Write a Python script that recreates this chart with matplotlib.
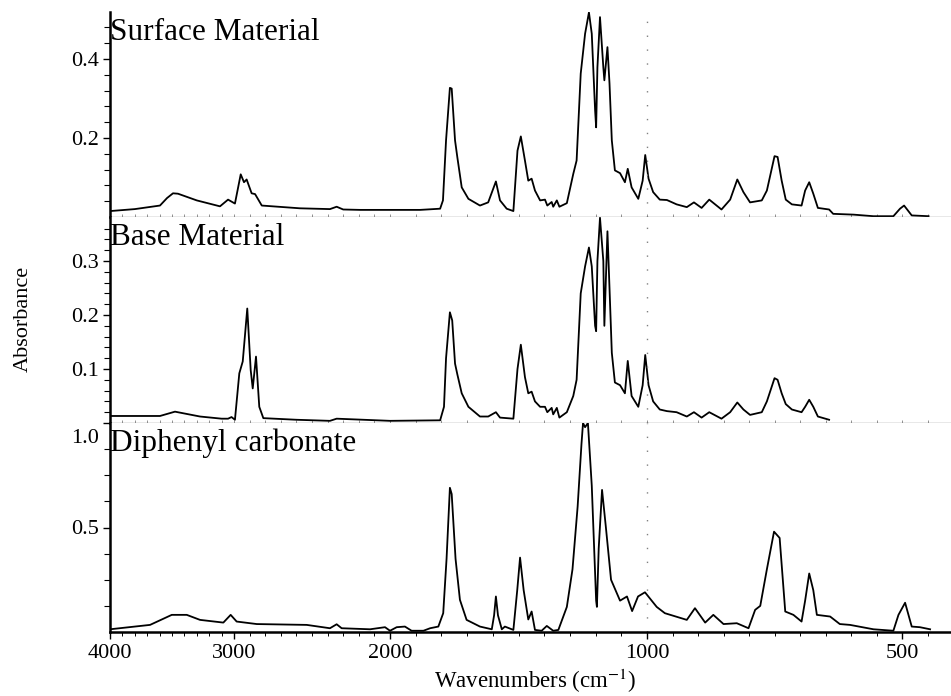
import numpy as np
import matplotlib
matplotlib.use("Agg")
from matplotlib import pyplot as plt
from matplotlib.ticker import FixedLocator, NullFormatter
from matplotlib.transforms import ScaledTranslation

plt.rcParams['font.family'] = ['Liberation Serif', 'DejaVu Serif']
plt.rcParams['mathtext.fontset'] = 'stix'

# expanded wavenumber axis: knot wavenumbers and where they sit along the axis
AXIS_WN = np.array([400.0, 500.0, 1000.0, 2000.0, 3000.0, 4000.0])
AXIS_POS = np.array([953.0, 902.0, 647.0, 390.0, 234.0, 110.0])

surface_wn = [4000, 3800, 3597, 3540, 3492, 3452, 3300, 3113, 3048, 2994, 2957, 2936, 2919,
              2887, 2865, 2822, 2577, 2385, 2342, 2300, 2192, 2000, 1883, 1805, 1794, 1782,
              1767, 1760, 1747, 1738, 1721, 1695, 1650, 1618, 1588, 1572, 1546, 1520, 1504,
              1491, 1475, 1462, 1449, 1436, 1416, 1397, 1388, 1371, 1365, 1351, 1341, 1312,
              1287, 1274, 1258, 1241, 1226, 1215, 1202, 1198, 1193, 1183, 1170, 1166, 1154,
              1146, 1137, 1125, 1105, 1086, 1075, 1060, 1034, 1017, 1007, 997, 988, 975, 961,
              942, 922, 908, 893, 878, 854, 837, 823, 811, 798, 775, 765, 750, 744, 736, 728,
              716, 697, 690, 682, 674, 665, 643, 635, 595, 556, 517, 504, 496, 481, 448]
surface_abs = [0.015, 0.020, 0.029, 0.048, 0.060, 0.059, 0.042, 0.027, 0.044, 0.034, 0.108,
               0.088, 0.095, 0.060, 0.058, 0.029, 0.022, 0.020, 0.026, 0.019, 0.018, 0.018,
               0.018, 0.021, 0.042, 0.194, 0.327, 0.325, 0.194, 0.151, 0.075, 0.046, 0.029,
               0.037, 0.090, 0.042, 0.021, 0.015, 0.168, 0.204, 0.143, 0.092, 0.097, 0.067,
               0.042, 0.044, 0.029, 0.038, 0.026, 0.042, 0.026, 0.035, 0.109, 0.143, 0.363,
               0.464, 0.518, 0.464, 0.270, 0.227, 0.379, 0.506, 0.379, 0.346, 0.430, 0.338,
               0.194, 0.118, 0.111, 0.088, 0.122, 0.075, 0.046, 0.092, 0.157, 0.097, 0.063,
               0.044, 0.043, 0.032, 0.025, 0.037, 0.023, 0.044, 0.019, 0.044, 0.095, 0.063,
               0.037, 0.042, 0.067, 0.154, 0.152, 0.092, 0.044, 0.032, 0.029, 0.067, 0.088,
               0.059, 0.023, 0.019, 0.008, 0.006, 0.002, 0.002, 0.021, 0.029, 0.004, 0.002]

base_wn = [4000, 3800, 3597, 3476, 3274, 3100, 3048, 3020, 2994, 2966, 2944, 2915, 2893,
           2880, 2859, 2838, 2812, 2600, 2385, 2342, 2000, 1805, 1790, 1782, 1767, 1758,
           1747, 1738, 1721, 1695, 1650, 1618, 1588, 1572, 1520, 1504, 1491, 1475, 1462,
           1449, 1436, 1416, 1397, 1388, 1371, 1365, 1351, 1341, 1312, 1287, 1274, 1258,
           1241, 1226, 1215, 1202, 1198, 1193, 1183, 1170, 1166, 1154, 1146, 1137, 1125,
           1105, 1086, 1075, 1060, 1034, 1017, 1007, 997, 988, 975, 961, 942, 922, 908, 893,
           878, 854, 837, 823, 811, 798, 775, 765, 750, 744, 736, 728, 716, 697, 690, 682,
           674, 665, 643]
base_abs = [0.013, 0.013, 0.013, 0.021, 0.012, 0.008, 0.008, 0.011, 0.006, 0.092, 0.114,
            0.212, 0.098, 0.064, 0.123, 0.030, 0.009, 0.006, 0.004, 0.008, 0.004, 0.005,
            0.030, 0.120, 0.205, 0.190, 0.110, 0.090, 0.055, 0.030, 0.012, 0.012, 0.020,
            0.010, 0.008, 0.100, 0.145, 0.085, 0.055, 0.058, 0.040, 0.030, 0.030, 0.020,
            0.028, 0.016, 0.028, 0.010, 0.020, 0.050, 0.080, 0.240, 0.290, 0.325, 0.290,
            0.180, 0.170, 0.300, 0.380, 0.300, 0.180, 0.355, 0.250, 0.130, 0.075, 0.070,
            0.055, 0.115, 0.050, 0.030, 0.070, 0.126, 0.070, 0.040, 0.025, 0.022, 0.020,
            0.012, 0.020, 0.010, 0.020, 0.008, 0.020, 0.038, 0.025, 0.015, 0.020, 0.040,
            0.083, 0.080, 0.055, 0.035, 0.025, 0.020, 0.030, 0.043, 0.030, 0.012, 0.006]

dpc_wn = [4000, 3677, 3502, 3381, 3274, 3086, 3027, 2983, 2854, 2534, 2385, 2342, 2310,
          2128, 2032, 2000, 1974, 1942, 1916, 1870, 1844, 1812, 1793, 1780, 1767, 1760,
          1745, 1728, 1702, 1650, 1604, 1595, 1588, 1580, 1565, 1553, 1520, 1505, 1494,
          1480, 1462, 1449, 1436, 1410, 1390, 1365, 1345, 1312, 1290, 1270, 1255, 1249,
          1241, 1230, 1215, 1198, 1195, 1188, 1175, 1160, 1140, 1105, 1078, 1058, 1035,
          1008, 981, 965, 922, 906, 886, 870, 850, 824, 801, 788, 778, 765, 751, 740, 729,
          713, 697, 690, 682, 674, 667, 641, 622, 602, 556, 517, 507, 494, 481, 465, 445]
dpc_abs = [0.013, 0.034, 0.082, 0.082, 0.058, 0.045, 0.082, 0.050, 0.038, 0.034, 0.018,
           0.037, 0.018, 0.013, 0.023, 0.006, 0.023, 0.026, 0.006, 0.006, 0.018, 0.026,
           0.090, 0.350, 0.690, 0.660, 0.350, 0.154, 0.058, 0.026, 0.013, 0.080, 0.170,
           0.080, 0.013, 0.026, 0.010, 0.200, 0.356, 0.200, 0.060, 0.098, 0.010, 0.006,
           0.029, 0.006, 0.010, 0.120, 0.300, 0.600, 0.900, 1.000, 0.980, 1.000, 0.700,
           0.150, 0.120, 0.400, 0.680, 0.500, 0.250, 0.150, 0.170, 0.100, 0.170, 0.190,
           0.120, 0.090, 0.058, 0.114, 0.045, 0.082, 0.038, 0.042, 0.018, 0.106, 0.125,
           0.300, 0.480, 0.450, 0.098, 0.082, 0.050, 0.150, 0.280, 0.200, 0.082, 0.074,
           0.038, 0.034, 0.013, 0.006, 0.082, 0.140, 0.026, 0.023, 0.013]

panels = [
    ("Surface Material", surface_wn, surface_abs, 0.519, [0.2, 0.4], np.arange(0.04, 0.52, 0.04)),
    ("Base Material", base_wn, base_abs, 0.3815, [0.1, 0.2, 0.3], np.arange(0.02, 0.38, 0.02)),
    ("Diphenyl carbonate", dpc_wn, dpc_abs, 1.0, [0.5, 1.0], np.arange(0.125, 1.0, 0.125)),
]

x_major = [4000, 3000, 2000, 1000, 500]
x_minor = list(range(3900, 1000, -100)) + list(range(950, 400, -50))


# increasing in wavenumber, like a log scale; the axis is then flipped by the limits
def wn_to_pos(w):
    return -np.interp(w, AXIS_WN, AXIS_POS)


def pos_to_wn(p):
    return np.interp(-np.asarray(p), AXIS_POS[::-1], AXIS_WN[::-1])


W, H = 951, 696
fig = plt.figure(figsize=(W / 100, H / 100), dpi=100)

# pixel rows of each panel (top, bottom)
rows = [(12, 217), (217, 423), (423, 632)]
left = 110 / W
title_shift = ScaledTranslation(0, -0.06, fig.dpi_scale_trans)

axes = []
for (title, wn, ab, ytop, yt, ymin), (r0, r1) in zip(panels, rows):
    ax = fig.add_axes([left, 1 - r1 / H, 1 - left, (r1 - r0) / H])
    ax.set_xscale('function', functions=(wn_to_pos, pos_to_wn))
    ax.set_xlim(4000, 404)
    ax.set_ylim(0, ytop)
    ax.plot(wn, ab, color='black', lw=1.3, solid_joinstyle='round')
    ax.axvline(1000, color='0.5', lw=1.0, linestyle=(0, (1, 9)))

    ax.spines['top'].set_visible(False)
    ax.spines['right'].set_visible(False)
    ax.spines['left'].set_linewidth(1.8)

    ax.set_yticks(yt, labels=[f"{v:.1f}" for v in yt])
    ax.yaxis.set_minor_locator(FixedLocator(ymin))
    ax.tick_params(axis='y', which='major', length=5, width=1.0, labelsize=16, pad=3)
    ax.tick_params(axis='y', which='minor', length=4, width=0.8)

    ax.xaxis.set_major_locator(FixedLocator(x_major))
    ax.xaxis.set_minor_locator(FixedLocator(x_minor))
    ax.xaxis.set_minor_formatter(NullFormatter())

    ax.text(0.0, 1.0, title, transform=ax.transAxes + title_shift, ha='left', va='top',
            fontsize=22.5)
    axes.append(ax)

for ax in axes[:2]:
    ax.spines['bottom'].set_linewidth(0.9)
    ax.spines['bottom'].set_color('0.3')
    ax.tick_params(axis='x', which='both', direction='in', length=2, width=0.6,
                   labelbottom=False, colors='0.5')

bottom = axes[2]
bottom.spines['bottom'].set_linewidth(1.8)
bottom.set_xticks(x_major, labels=[str(v) for v in x_major])
bottom.tick_params(axis='x', which='major', length=5, width=1.0, labelsize=16, pad=4)
bottom.tick_params(axis='x', which='minor', length=3, width=0.7)
# the 1.0 label would collide with the panel above, so it hangs below its tick
for lab in bottom.get_yticklabels():
    if lab.get_text() == "1.0":
        lab.set_transform(lab.get_transform() + ScaledTranslation(0, -0.13, fig.dpi_scale_trans))

fig.text(23 / W, 1 - 319 / H, "Absorbance", rotation=90, ha='center', va='center',
         fontsize=16)
fig.text(535 / W, 1 - 681 / H, "Wavenumbers (cm$^{-1}$)", ha='center', va='center',
         fontsize=16.5)

fig.savefig("out.png", dpi=100)
